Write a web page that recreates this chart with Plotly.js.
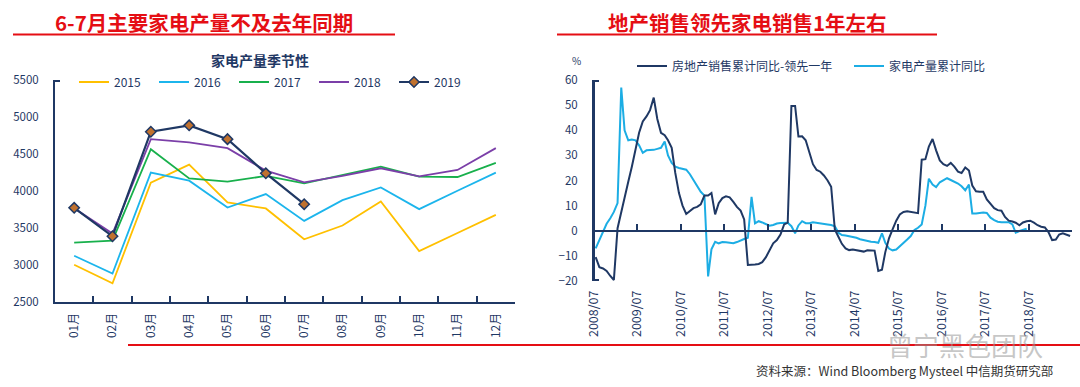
<!DOCTYPE html>
<html>
<head>
<meta charset="utf-8">
<script src="https://cdn.plot.ly/plotly-3.0.1.min.js"></script>
<style>html,body{margin:0;padding:0;background:#fff;}#chart{width:1080px;height:387px;}</style>
</head>
<body>
<div id="chart"></div>
<script>
// ---------- Left chart data: 家电产量季节性 ----------
var months = ['01月','02月','03月','04月','05月','06月','07月','08月','09月','10月','11月','12月'];
var v2015 = [3003, 2754, 4112, 4357, 3845, 3764, 3347, 3533, 3859, 3188, 3433, 3678];
var v2016 = [3125, 2885, 4248, 4140, 3777, 3958, 3596, 3877, 4049, 3755, 4004, 4248];
var v2017 = [3302, 3329, 4565, 4171, 4126, 4203, 4103, 4216, 4330, 4194, 4189, 4380];
var v2018 = [3768, 3424, 4701, 4656, 4579, 4275, 4117, 4203, 4307, 4198, 4284, 4579];
var v2019 = [3773, 3388, 4801, 4887, 4701, 4239, 3822];

// ---------- Right chart data (monthly, starting 2008/07) ----------
var seriesStart = [2008, 7];
var realEstateLead = [
  -10.5,-14.5,-15,-16,-18,-19.6,1,7,13,19.5,
  25.5,32,39,43.5,45.5,48,53,44.5,39,38,
  36,33,23,15,10,6.7,8,9,9.5,10.5,
  14,14,15,6.5,11,13,13.7,13.3,11.5,9.5,
  8,4.5,-13.6,-13.6,-13.4,-13.2,-12.5,-10.5,-7.5,-5,
  -3.7,-1.5,2.5,3.2,49.7,49.7,37.5,37.6,36,31,
  26.5,24.2,23.5,22,20,17.5,0.5,-2.5,-5.2,-7,
  -7.7,-7.5,-7.8,-8.2,-8.3,-7.8,-8,-7.9,-16,-15.5,
  -8.5,-3,0.5,4,6.5,7.5,7.8,7.6,7.4,7,
  28.3,28.5,33.5,36.5,32,28,26.5,25.8,27,25.5,
  23.5,23,25.2,24,18,15.7,15.5,15.5,12.5,10.8,
  9,8.2,8,5.5,4,3.7,3.2,2.2,3.3,3.8,
  4,3.2,2.2,1.6,1.3,-0.5,-3.7,-3.5,-1.5,-1,
  -1.7,-2.1
];
var applianceOutput = [
  -7,-3.8,0,2.8,5,7.5,11,57,40,36,
  36.3,36,34,31,32,32,32.2,32.6,33,35.5,
  30,27,25.5,25,24.5,24.3,22.5,20,17.5,15.5,
  14,-18.2,-7.4,-4.4,-5,-4.5,-4.6,-4.8,-5,-4.5,
  -3.8,-3.3,-2.8,13.5,2.9,3.8,3.3,2.5,2,2.3,
  2.9,3.1,3.2,3.2,1.8,-1,2.1,3.8,3,3,
  3.4,3.1,2.9,2.7,2.5,2.3,1.8,-0.8,-1.7,-1.9,
  -2.1,-2.5,-2.8,-3.4,-3.8,-4.3,-4.4,-4.5,-4.8,-1,
  -4.8,-7.1,-7.8,-7.5,-6.3,-4.8,-3.5,-2.1,0.3,1.2,
  2.5,10,20.7,18.4,17.4,19.3,20.1,20.9,20.2,19.5,
  18.8,17.7,16.1,18.4,6.9,6.9,7.2,7.3,7.1,5.2,
  4.2,3.6,3.4,3.4,3.4,2.5,-0.8,-0.1,0.3,0.8
];
var xTickLabels = ['2008/07','2009/07','2010/07','2011/07','2012/07','2013/07','2014/07','2015/07','2016/07','2017/07','2018/07'];

function monthDates(n) {
  var out = [];
  for (var i = 0; i < n; i++) {
    var t = seriesStart[1] - 1 + i;
    var y = seriesStart[0] + Math.floor(t / 12);
    var m = (t % 12) + 1;
    out.push(y + '-' + (m < 10 ? '0' + m : m) + '-15');
  }
  return out;
}
var tickVals = xTickLabels.map(function (s) { return s.replace('/', '-') + '-01'; });

var NAVY = '#1f3864';
var RED = '#e50e14';
var W = 1080, H = 387;
function px(x) { return x / W; }
function py(y) { return 1 - y / H; }
var FONT = '"Noto Sans CJK SC", "Noto Sans", sans-serif';

var traces = [
  {x: months, y: v2015, name: '2015', type: 'scatter', mode: 'lines', line: {color: '#ffc000', width: 1.8}, xaxis: 'x', yaxis: 'y', legend: 'legend'},
  {x: months, y: v2016, name: '2016', type: 'scatter', mode: 'lines', line: {color: '#1cb5ec', width: 1.8}, xaxis: 'x', yaxis: 'y', legend: 'legend'},
  {x: months, y: v2017, name: '2017', type: 'scatter', mode: 'lines', line: {color: '#18b04c', width: 1.8}, xaxis: 'x', yaxis: 'y', legend: 'legend'},
  {x: months, y: v2018, name: '2018', type: 'scatter', mode: 'lines', line: {color: '#7b3fa8', width: 1.8}, xaxis: 'x', yaxis: 'y', legend: 'legend'},
  {x: months.slice(0, v2019.length), y: v2019, name: '2019', type: 'scatter', mode: 'lines+markers',
   line: {color: NAVY, width: 2.2}, marker: {symbol: 'diamond', size: 8, color: '#c0712e', line: {color: NAVY, width: 1.5}},
   xaxis: 'x', yaxis: 'y', legend: 'legend'},
  {x: monthDates(realEstateLead.length), y: realEstateLead, name: '房地产销售累计同比-领先一年', type: 'scatter', mode: 'lines',
   line: {color: NAVY, width: 2}, xaxis: 'x3', yaxis: 'y2', legend: 'legend2'},
  {x: monthDates(applianceOutput.length), y: applianceOutput, name: '家电产量累计同比', type: 'scatter', mode: 'lines',
   line: {color: '#1cade4', width: 2}, xaxis: 'x2', yaxis: 'y2', legend: 'legend2'}
];

var axisFont = {family: FONT, size: 11.5, color: NAVY};

var layout = {
  width: W, height: H,
  margin: {l: 0, r: 0, t: 0, b: 0},
  paper_bgcolor: '#fff', plot_bgcolor: 'rgba(0,0,0,0)',
  font: {family: FONT, color: NAVY},
  showlegend: true,
  xaxis: {
    domain: [px(55), px(515)], anchor: 'y', type: 'category', range: [-0.5, 11.5],
    tickson: 'boundaries', ticks: 'inside', ticklen: 6, tickwidth: 2, tickcolor: NAVY,
    showline: true, linecolor: NAVY, linewidth: 2, showgrid: false, zeroline: false,
    tickangle: -90, tickfont: {family: FONT, size: 12, color: NAVY}, ticklabelstandoff: 4
  },
  yaxis: {
    domain: [py(302), py(80)], anchor: 'x', range: [2500, 5500], dtick: 500,
    showline: true, linecolor: NAVY, linewidth: 2, showgrid: false, zeroline: false,
    ticks: '', ticklabelstandoff: 12, tickfont: axisFont
  },
  xaxis2: {
    domain: [px(594), px(1072)], anchor: 'y2', type: 'date', range: ['2008-07-01', '2019-07-01'],
    tickmode: 'array', tickvals: tickVals, ticktext: xTickLabels,
    showline: false, ticks: '', showgrid: false, zeroline: false, tickangle: -90,
    tickfont: {family: FONT, size: 12.5, color: NAVY}, ticklabelstandoff: 6
  },
  xaxis3: {
    domain: [px(594), px(1072)], overlaying: 'x2', anchor: 'free', position: py(231), side: 'bottom', type: 'date', range: ['2008-07-01', '2019-07-01'],
    tick0: '2008-07-01', dtick: 'M12', ticks: 'inside', ticklen: 6, tickwidth: 2, tickcolor: NAVY,
    showline: true, linecolor: NAVY, linewidth: 2, showgrid: false, zeroline: false, showticklabels: false
  },
  yaxis2: {
    domain: [py(281), py(80)], anchor: 'x2', range: [-20, 60], dtick: 10,
    showline: true, linecolor: NAVY, linewidth: 2, showgrid: false, zeroline: false,
    ticks: '', ticklabelstandoff: 12, tickfont: axisFont
  },
  legend: {
    orientation: 'h', x: px(74), y: py(82), xanchor: 'left', yanchor: 'middle',
    font: {family: FONT, size: 12, color: NAVY}, bgcolor: 'rgba(0,0,0,0)',
    entrywidthmode: 'pixels', entrywidth: 35, traceorder: 'normal'
  },
  legend2: {
    orientation: 'h', x: px(632), y: py(66), xanchor: 'left', yanchor: 'middle',
    font: {family: FONT, size: 12, color: NAVY}, bgcolor: 'rgba(0,0,0,0)',
    entrywidthmode: 'pixels', entrywidth: 172, traceorder: 'normal'
  },
  shapes: [
    {type: 'line', xref: 'paper', yref: 'paper', x0: px(13), x1: px(395), y0: py(34.5), y1: py(34.5), line: {color: RED, width: 2}},
    {type: 'line', xref: 'paper', yref: 'paper', x0: px(557), x1: px(937), y0: py(34.5), y1: py(34.5), line: {color: RED, width: 2}},
    {type: 'line', xref: 'paper', yref: 'paper', x0: px(128), x1: px(1080), y0: py(345), y1: py(345), line: {color: RED, width: 2}},
    {type: 'line', xref: 'paper', yref: 'paper', x0: px(55), x1: px(60), y0: py(81), y1: py(81), line: {color: NAVY, width: 2}},
    {type: 'line', xref: 'paper', yref: 'paper', x0: px(594), x1: px(594), y0: py(80), y1: py(281), line: {color: NAVY, width: 2}},
    {type: 'line', xref: 'paper', yref: 'paper', x0: px(594), x1: px(599), y0: py(81), y1: py(81), line: {color: NAVY, width: 2}},
    {type: 'line', xref: 'paper', yref: 'paper', x0: px(594), x1: px(599), y0: py(280), y1: py(280), line: {color: NAVY, width: 2}}
  ],
  annotations: [
    {xref: 'paper', yref: 'paper', x: px(204), y: py(22), xanchor: 'center', yanchor: 'middle', showarrow: false,
     text: '<b>6-7月主要家电产量不及去年同期</b>', font: {family: FONT, size: 20.5, color: RED}},
    {xref: 'paper', yref: 'paper', x: px(747), y: py(22), xanchor: 'center', yanchor: 'middle', showarrow: false,
     text: '<b>地产销售领先家电销售1年左右</b>', font: {family: FONT, size: 20.5, color: RED}},
    {xref: 'paper', yref: 'paper', x: px(260), y: py(60), xanchor: 'center', yanchor: 'middle', showarrow: false,
     text: '<b>家电产量季节性</b>', font: {family: FONT, size: 14, color: NAVY}},
    {xref: 'paper', yref: 'paper', x: px(576), y: py(60), xanchor: 'center', yanchor: 'middle', showarrow: false,
     text: '%', font: {family: FONT, size: 10, color: NAVY}},
    {xref: 'paper', yref: 'paper', x: px(965), y: py(344), xanchor: 'center', yanchor: 'middle', showarrow: false,
     text: '曾宁黑色团队', font: {family: FONT, size: 26, color: 'rgba(150,150,150,0.55)'}},
    {xref: 'paper', yref: 'paper', x: px(1055), y: py(370), xanchor: 'right', yanchor: 'middle', showarrow: false,
     text: '资料来源：Wind Bloomberg Mysteel 中信期货研究部', font: {family: FONT, size: 12.5, color: '#333333'}}
  ]
};

Plotly.newPlot('chart', traces, layout, {staticPlot: true, displayModeBar: false});
</script>
</body>
</html>
